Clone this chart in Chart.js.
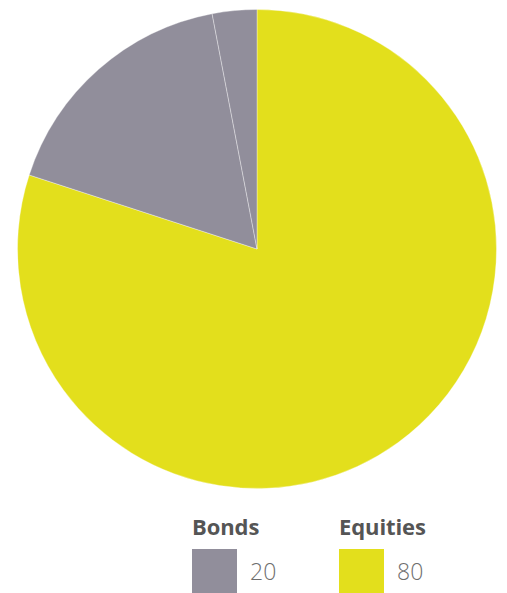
<!DOCTYPE html>
<html>
<head>
<meta charset="utf-8">
<script src="https://cdn.jsdelivr.net/npm/chart.js@4"></script>
<style>
  html, body { margin: 0; padding: 0; background: #fff; }
  body { width: 507px; height: 593px; position: relative; overflow: hidden; font-family: "Open Sans", Lato, sans-serif; }
  #wrap { position: absolute; left: 17px; top: 9px; width: 480px; height: 480px; }
  .legend { position: absolute; top: 512px; width: 140px; height: 90px; }
  .legend .name { position: absolute; left: 0; top: -1px; font-weight: 700; font-size: 22px; color: #555; line-height: 30px; letter-spacing: -0.1px; }
  .legend .box { position: absolute; left: 0; top: 37px; width: 45px; height: 45px; }
  .legend .val { position: absolute; left: 58px; top: 45px; font-size: 23px; color: #6e6e6e; line-height: 28px; font-weight: 300; }
</style>
</head>
<body>
<div id="wrap"><canvas id="pie"></canvas></div>
<div class="legend" id="lg0" style="left:192px"></div>
<div class="legend" id="lg1" style="left:339px"></div>
<script>
// slices, clockwise from 12 o'clock
const sliceLabels = ['Equities', 'Bonds', 'Bonds'];
const sliceValues = [80, 17, 3];
const sliceColors = ['#e3df1c', '#918e9b', '#918e9b'];

// legend entries
const legendLabels = ['Bonds', 'Equities'];
const legendValues = [20, 80];
const legendColors = ['#918e9b', '#e3df1c'];

document.addEventListener('DOMContentLoaded', () => {
    const ctx = document.getElementById('pie').getContext('2d');

    new Chart(ctx, {
        type: 'pie',
        data: {
            labels: sliceLabels,
            datasets: [{
                data: sliceValues,
                backgroundColor: sliceColors,
                borderColor: 'rgba(255,255,255,0.35)',
                borderWidth: 1
            }]
        },
        options: {
            responsive: true,
            maintainAspectRatio: false,
            animation: false,
            layout: { padding: 0 },
            plugins: {
                legend: { display: false },
                tooltip: { enabled: false }
            }
        }
    });

    legendLabels.forEach((label, i) => {
        const el = document.getElementById('lg' + i);
        el.innerHTML =
            '<div class="name">' + label + '</div>' +
            '<div class="box" style="background:' + legendColors[i] + '"></div>' +
            '<div class="val">' + legendValues[i] + '</div>';
    });
});
</script>
</body>
</html>
